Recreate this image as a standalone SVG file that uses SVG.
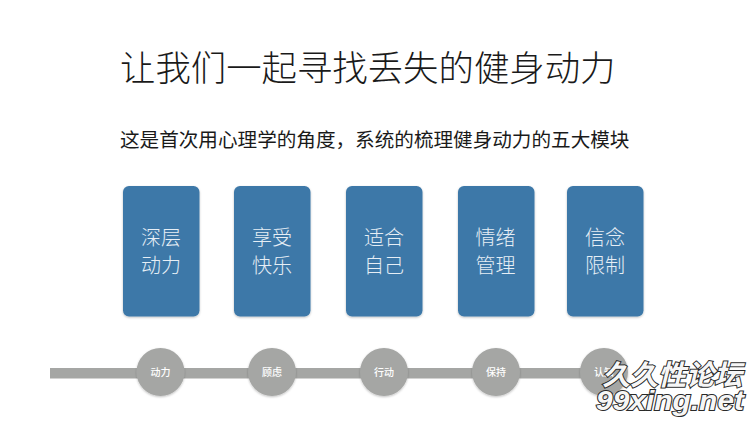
<svg xmlns="http://www.w3.org/2000/svg" width="750" height="421" viewBox="0 0 750 421">
<defs>
<filter id="sh" x="-10%" y="-10%" width="120%" height="120%"><feDropShadow dx="0" dy="1" stdDeviation="0.8" flood-color="#000" flood-opacity="0.25"/></filter>
</defs>
<style>
text{font-family:"Noto Sans CJK SC","Liberation Sans",sans-serif}
.card{fill:#3d78a8;filter:url(#sh)}
.ct{fill:#e6eef5;font-size:20px;font-weight:300;text-anchor:middle}
.circ{fill:#a5a6a4;filter:url(#sh)}
.cl{fill:#fff;font-size:10px;font-weight:500;text-anchor:middle}
.wm{fill:#f6f6f6;stroke:#2a2a2a;stroke-width:2px;paint-order:stroke;font-weight:700;font-style:italic}
</style>
<rect width="750" height="421" fill="#fff"/>
<text x="120" y="81" font-size="35.400" fill="#1a1a1a" style="font-weight:300">让我们一起寻找丢失的健身动力</text>
<text x="120" y="147" font-size="19.600" fill="#1a1a1a" style="font-weight:400">这是首次用心理学的角度，系统的梳理健身动力的五大模块</text>
<g id="connectors"><rect x="50" y="368" width="560" height="10.500" fill="#a5a6a4"/></g>
<g id="card1"><rect class="card" x="123" y="186" width="76.500" height="130.500" rx="6"/><text class="ct" x="161" y="245">深层</text><text class="ct" x="161" y="273">动力</text></g>
<g id="card2"><rect class="card" x="234" y="186" width="76.500" height="130.500" rx="6"/><text class="ct" x="272" y="245">享受</text><text class="ct" x="272" y="273">快乐</text></g>
<g id="card3"><rect class="card" x="346" y="186" width="76.500" height="130.500" rx="6"/><text class="ct" x="384" y="245">适合</text><text class="ct" x="384" y="273">自己</text></g>
<g id="card4"><rect class="card" x="458" y="186" width="76.500" height="130.500" rx="6"/><text class="ct" x="495.500" y="245">情绪</text><text class="ct" x="495.500" y="273">管理</text></g>
<g id="card5"><rect class="card" x="567" y="186" width="76.500" height="130.500" rx="6"/><text class="ct" x="605" y="245">信念</text><text class="ct" x="605" y="273">限制</text></g>
<g id="step1"><circle class="circ" cx="160.500" cy="372" r="24"/><text class="cl" x="160.500" y="375.500">动力</text></g>
<g id="step2"><circle class="circ" cx="272" cy="372" r="24"/><text class="cl" x="272" y="375.500">顾虑</text></g>
<g id="step3"><circle class="circ" cx="384" cy="372" r="24"/><text class="cl" x="384" y="375.500">行动</text></g>
<g id="step4"><circle class="circ" cx="496" cy="372" r="24"/><text class="cl" x="496" y="375.500">保持</text></g>
<g id="step5"><circle class="circ" cx="604" cy="372" r="24"/><text class="cl" x="604" y="375.500">认知</text></g>
<g id="watermark">
<text class="wm" x="602" y="385" font-size="28" textLength="140" lengthAdjust="spacingAndGlyphs">久久性论坛</text>
<text class="wm" x="596" y="410" font-size="27" textLength="148" lengthAdjust="spacingAndGlyphs" style="font-family:'Liberation Sans',sans-serif">99xing.net</text>
</g>
</svg>
